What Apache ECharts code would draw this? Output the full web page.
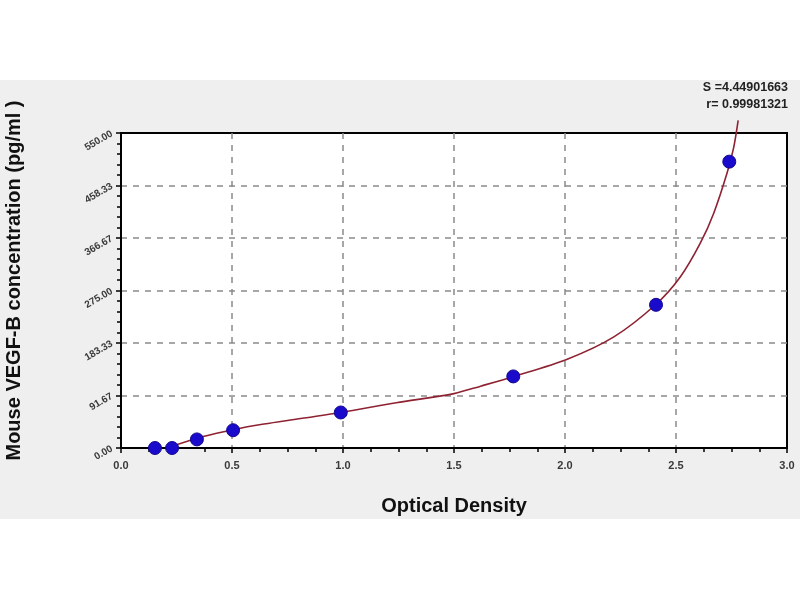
<!DOCTYPE html>
<html><head><meta charset="utf-8">
<script src="https://cdn.jsdelivr.net/npm/echarts@6/dist/echarts.min.js"></script>
<style>
html,body{margin:0;padding:0;background:#fff;}
#c{width:800px;height:600px;background:linear-gradient(to bottom,#ffffff 0px,#ffffff 80px,#efefef 80px,#efefef 519px,#ffffff 519px,#ffffff 600px);}
</style></head>
<body><div id="c"></div>
<script>
// Standard points (Optical Density, concentration pg/ml)
const odPoints   = [0.153, 0.23, 0.342, 0.505, 0.99, 1.767, 2.41, 2.74];
const concPoints = [0, 0, 15, 31, 62, 125, 250, 500];
// Fitted curve
const curveOD   = [0.23, 0.37, 0.505, 0.63, 0.75, 0.99, 1.24, 1.5, 1.62, 1.77, 2.01, 2.22, 2.41, 2.52, 2.61, 2.67, 2.73, 2.76, 2.78];
const curveConc = [3, 20, 32, 41, 48, 62, 79, 95, 108, 125, 155, 194, 251, 299, 358, 410, 480, 525, 572];
const yTickLabels = ['0.00','91.67','183.33','275.00','366.67','458.33','550.00'];
const xTickLabels = ['0.0','0.5','1.0','1.5','2.0','2.5','3.0'];
const statLines = ['S =4.44901663', 'r= 0.99981321'];

const chart = echarts.init(document.getElementById('c'), null, {renderer:'canvas'});
const yStep = 550/6;
chart.setOption({
  animation:false,
  backgroundColor:'transparent',
  grid:{left:121,right:13,top:133,bottom:152,containLabel:false,outerBoundsMode:'none',show:true,backgroundColor:'#ffffff',borderColor:'#000',borderWidth:2},
  xAxis:{type:'value',min:0,max:3,interval:0.5,
    axisLine:{show:true,lineStyle:{color:'#000',width:2}},
    axisTick:{show:true,length:5,inside:false,lineStyle:{color:'#000',width:1.5}},
    minorTick:{show:true,splitNumber:4,length:4,lineStyle:{color:'#000',width:1.5}},
    splitLine:{show:true,showMinLine:false,showMaxLine:false,lineStyle:{color:'#8a8a8a',type:[6,6],width:1.5}},
    axisLabel:{color:'#3a3a3a',fontSize:11,fontWeight:'bold',fontFamily:'Liberation Sans',margin:12,
      formatter:(v)=>xTickLabels[Math.round(v/0.5)]},
    name:'Optical Density',nameLocation:'middle',nameGap:48,
    nameTextStyle:{color:'#111',fontSize:20,fontWeight:'bold',fontFamily:'Liberation Sans'}
  },
  yAxis:{type:'value',min:0,max:550,interval:yStep,
    axisLine:{show:true,lineStyle:{color:'#000',width:2}},
    axisTick:{show:true,length:5,inside:false,lineStyle:{color:'#000',width:1.5}},
    minorTick:{show:true,splitNumber:5,length:4,lineStyle:{color:'#000',width:1.5}},
    splitLine:{show:true,showMinLine:false,showMaxLine:false,lineStyle:{color:'#8a8a8a',type:[6,6],width:1.5}},
    axisLabel:{color:'#3a3a3a',fontSize:10,fontWeight:'bold',fontFamily:'Liberation Sans',rotate:30,margin:9,
      formatter:(v)=>yTickLabels[Math.round(v/yStep)]},
    name:'Mouse VEGF-B concentration (pg/ml )',nameLocation:'middle',nameGap:97,
    nameTextStyle:{color:'#111',fontSize:20,fontWeight:'bold',fontFamily:'Liberation Sans',padding:[0,0,0,20]}
  },
  graphic:[
    {type:'text',right:12,top:81,style:{text:statLines[0],fill:'#222',font:'bold 12.5px "Liberation Sans"'}},
    {type:'text',right:12,top:98,style:{text:statLines[1],fill:'#222',font:'bold 12.5px "Liberation Sans"'}}
  ],
  series:[
    {type:'line',data:curveOD.map((x,i)=>[x,curveConc[i]]),smooth:0.3,showSymbol:false,clip:false,
      lineStyle:{color:'#8e2232',width:1.6},z:2},
    {type:'scatter',data:odPoints.map((x,i)=>[x,concPoints[i]]),symbol:'circle',symbolSize:13,clip:false,
      itemStyle:{color:'#1a0acc',opacity:1,borderColor:'#12088c',borderWidth:1},z:3}
  ]
});
</script></body></html>
